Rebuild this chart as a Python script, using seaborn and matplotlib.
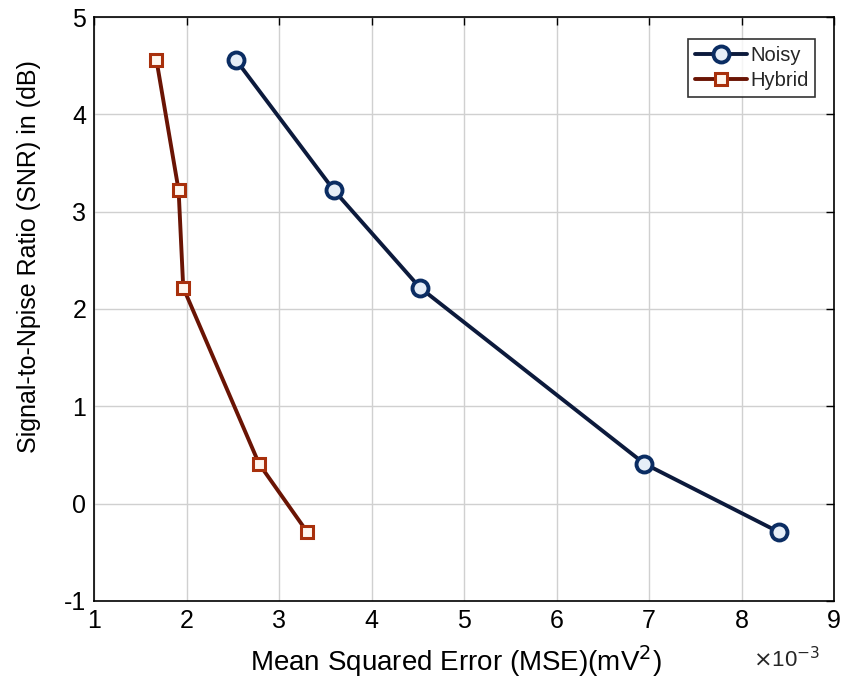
import numpy as np
import pandas as pd
import matplotlib
matplotlib.use("Agg")
import matplotlib.pyplot as plt
import seaborn as sns

# Data (MSE in units of 1e-3 mV^2, SNR in dB)
snr_db = [4.56, 3.22, 2.22, 0.41, -0.29]
mse_noisy = [2.53, 3.59, 4.52, 6.95, 8.40]
mse_hybrid = [1.67, 1.91, 1.96, 2.78, 3.30]
series_names = ["Noisy", "Hybrid"]
x_ticks = [1, 2, 3, 4, 5, 6, 7, 8, 9]
y_ticks = [-1, 0, 1, 2, 3, 4, 5]

df = pd.DataFrame({
    "MSE": mse_noisy + mse_hybrid,
    "SNR": snr_db + snr_db,
    "Series": [series_names[0]] * len(snr_db) + [series_names[1]] * len(snr_db),
})

sns.set_theme(style="white")
plt.rcParams["font.family"] = ["Liberation Sans", "DejaVu Sans"]

fig = plt.figure(figsize=(8.49, 6.78), dpi=100)
ax = fig.add_axes([0.1113, 0.1136, 0.8710, 0.8613])

styles = {
    "Noisy": dict(color="#0c1a3c", marker="o", markersize=11.5, mec="#0b2d63",
                  mfc="#e6eef8", mew=2.8),
    "Hybrid": dict(color="#6a1404", marker="s", markersize=8.5, mec="#a8300c",
                   mfc="#fff6ee", mew=2.2),
}
for name in series_names:
    sub = df[df["Series"] == name]
    st = styles[name]
    sns.lineplot(data=sub, x="MSE", y="SNR", ax=ax, sort=False, label=name,
                 color=st["color"], linewidth=2.8, marker=st["marker"],
                 markersize=st["markersize"], markeredgecolor=st["mec"],
                 markerfacecolor=st["mfc"], markeredgewidth=st["mew"])

ax.set_xlim(1, 9)
ax.set_ylim(-1, 5)
ax.set_xticks(x_ticks)
ax.set_yticks(y_ticks)
ax.set_xticklabels([str(v) for v in x_ticks])
ax.set_yticklabels([str(v) for v in y_ticks])
ax.grid(True, color="#d0d0d0", linewidth=1.0)
ax.set_axisbelow(True)
for s in ax.spines.values():
    s.set_color("black")
    s.set_linewidth(1.2)
ax.tick_params(axis="both", direction="in", length=6, width=1, colors="black",
               labelsize=18, top=True, right=True, pad=6)
for lbl in ax.get_xticklabels() + ax.get_yticklabels():
    lbl.set_color("black")

ax.set_xlabel("Mean Squared Error (MSE)(mV$^2$)", fontsize=20, color="black")
ax.set_ylabel("Signal-to-Npise Ratio (SNR) in (dB)", fontsize=18, color="black")
ax.xaxis.set_label_coords(0.489, -0.072)
ax.yaxis.set_label_coords(-0.072, 0.59)
fig.text(0.927, 0.009, r"$\times$10$^{-3}$", fontsize=16, ha="center", va="bottom")

leg = ax.legend(loc="upper right", fontsize=14.5, frameon=True, fancybox=False,
                edgecolor="black", handlelength=2.6, borderpad=0.35,
                labelspacing=0.3, handletextpad=0.15, borderaxespad=0.0,
                bbox_to_anchor=(0.975, 0.962))
leg.get_frame().set_linewidth(1.2)
for line in leg.get_lines():
    line.set_linewidth(2.8)

fig.savefig("out.png", dpi=100)
